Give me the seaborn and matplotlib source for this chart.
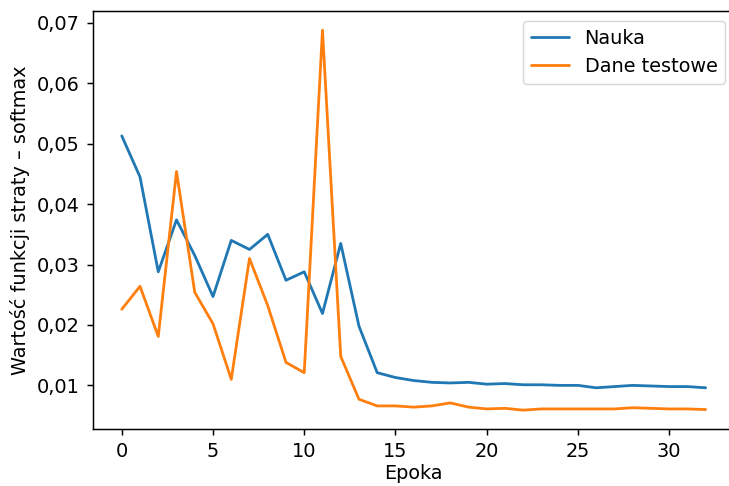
import numpy as np
import pandas as pd
import seaborn as sns
import matplotlib
matplotlib.use("Agg")
import matplotlib.pyplot as plt
from matplotlib.ticker import FuncFormatter

# Loss values per epoch
epoki = list(range(33))
nauka = [0.0513, 0.0445, 0.0288, 0.0374, 0.0315, 0.0247, 0.0340, 0.0325, 0.0350,
         0.0274, 0.0288, 0.0219, 0.0335, 0.0198, 0.0121, 0.0113, 0.0108, 0.0105,
         0.0104, 0.0105, 0.0102, 0.0103, 0.0101, 0.0101, 0.0100, 0.0100, 0.0096,
         0.0098, 0.0100, 0.0099, 0.0098, 0.0098, 0.0096]
testowe = [0.0226, 0.0264, 0.0181, 0.0454, 0.0254, 0.0202, 0.0110, 0.0310, 0.0232,
           0.0138, 0.0121, 0.0688, 0.0148, 0.0077, 0.0066, 0.0066, 0.0064, 0.0066,
           0.0071, 0.0064, 0.0061, 0.0062, 0.0059, 0.0061, 0.0061, 0.0061, 0.0061,
           0.0061, 0.0063, 0.0062, 0.0061, 0.0061, 0.0060]
serie = ["Nauka", "Dane testowe"]

df = pd.DataFrame({
    "Epoka": epoki * 2,
    "Strata": nauka + testowe,
    "Seria": [serie[0]] * len(epoki) + [serie[1]] * len(epoki),
})

sns.set_style("ticks", rc={
    "text.color": "black", "axes.labelcolor": "black",
    "xtick.color": "black", "ytick.color": "black", "axes.edgecolor": "black",
})
plt.rcParams["font.family"] = ["DejaVu Sans"]
fs = 13.9

fig = plt.figure(figsize=(7.29, 4.86), dpi=100)
# the original picture is cropped on the right, so the axes runs past the edge
ax = fig.add_axes([0.127, 0.117, 0.881, 0.86])

sns.lineplot(data=df, x="Epoka", y="Strata", hue="Seria",
             palette=["#1f77b4", "#ff7f0e"], linewidth=2.0, ax=ax)

ax.yaxis.set_major_formatter(FuncFormatter(lambda v, p: f"{v:.2f}".replace(".", ",")))
ax.tick_params(axis="both", labelsize=fs, length=4.6, width=1.07, pad=4.6)
for s in ax.spines.values():
    s.set_linewidth(1.07)
ax.set_xlabel("Epoka", fontsize=fs, labelpad=2.5)
ax.set_ylabel("Wartość funkcji straty – softmax", fontsize=fs, labelpad=5)
leg = ax.legend(loc="upper right", fontsize=fs, frameon=True)
leg.get_frame().set_edgecolor("0.8")

fig.savefig("out.png", dpi=100)
